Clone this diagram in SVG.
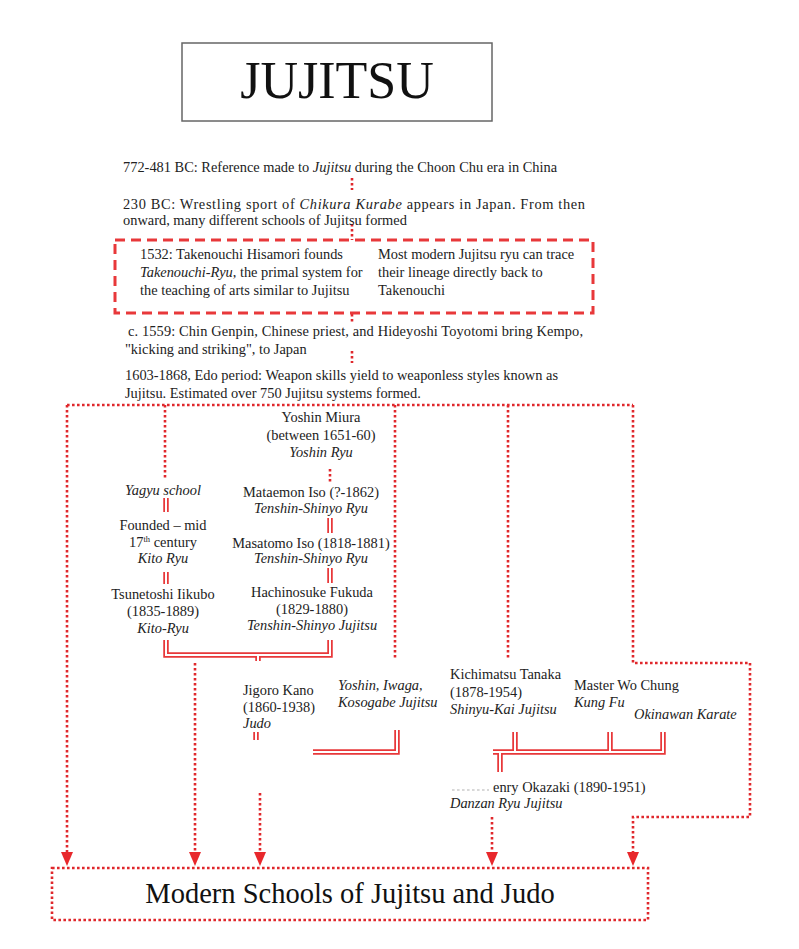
<svg xmlns="http://www.w3.org/2000/svg" width="799" height="949" viewBox="0 0 799 949" font-family="'Liberation Serif','Times New Roman',serif">
<style>
text{font-family:"Liberation Serif","Times New Roman",serif;font-size:14.4px;fill:#222}
.i{font-style:italic}
.c{text-anchor:middle}
.dot{fill:none;stroke:#e0282c;stroke-width:2.6;stroke-dasharray:2.6 2.4}
.dash{fill:none;stroke:#e8383a;stroke-width:3;stroke-dasharray:10 6}
.dbl{fill:none;stroke:#e8383a;stroke-width:5.5}
.dblw{fill:none;stroke:#fff;stroke-width:2}
.arr{fill:#e8282c}
</style>
<rect width="799" height="949" fill="#fff"/>
<g id="connectors">
<path class="dot" d="M352 178V190M352 224V240M352 314V323M352 351V363"/>
<path class="dot" d="M67 405H633M67 405V852M165 405V478M395 405V660M508 405V660M633 405V663H750V817H633V852"/>
<path class="dot" d="M330 469V483M195 663V852M260 793V852M492 817V852"/>
<path class="dot" d="M452 790H489" style="stroke:#ccc;stroke-width:1.5"/>
<g id="double-lines">
<path class="dbl" d="M166 498V512M166 572V584M330 518V533M330 568V583M166 640V655H330V640M258 655V661M256 732V740M397 730V752H313M515 732V752M610 732V752M663 732V752H493M500 752V772"/>
<path class="dblw" d="M166 498V512M166 572V584M330 518V533M330 568V583M166 640V655H330V640M258 655V661M256 732V740M397 730V752H313M515 732V752M610 732V752M663 732V752H493M500 752V772"/>
</g>
<polygon class="arr" points="61,852 73,852 67,866"/>
<polygon class="arr" points="189,852 201,852 195,866"/>
<polygon class="arr" points="254,852 266,852 260,866"/>
<polygon class="arr" points="486,852 498,852 492,866"/>
<polygon class="arr" points="627,852 639,852 633,866"/>
</g>
<g id="title">
<rect x="182" y="43" width="310" height="78" fill="none" stroke="#666" stroke-width="1.5"/>
<text x="337" y="98" class="c" style="font-size:52px;fill:#111">JUJITSU</text>
</g>
<g id="n772">
<text x="123" y="172">772-481 BC: Reference made to <tspan class="i">Jujitsu</tspan> during the Choon Chu era in China</text>
</g>
<g id="n230">
<text x="123" y="209" textLength="462" lengthAdjust="spacing">230 BC: Wrestling sport of <tspan class="i">Chikura Kurabe</tspan> appears in Japan.  From then</text>
<text x="123" y="225">onward, many different schools of Jujitsu formed</text>
</g>
<g id="n1532">
<rect class="dash" x="115" y="240" width="478" height="73"/>
<text x="140" y="259">1532: Takenouchi Hisamori founds</text>
<text x="140" y="277"><tspan class="i">Takenouchi-Ryu</tspan>, the primal system for</text>
<text x="140" y="295">the teaching of arts similar to Jujitsu</text>
<text x="378" y="259">Most modern Jujitsu ryu can trace</text>
<text x="378" y="277">their lineage directly back to</text>
<text x="378" y="295">Takenouchi</text>
</g>
<g id="n1559">
<text x="128" y="336" textLength="455" lengthAdjust="spacing">c. 1559: Chin Genpin, Chinese priest, and Hideyoshi Toyotomi bring Kempo,</text>
<text x="125" y="354">"kicking and striking", to Japan</text>
</g>
<g id="n1603">
<text x="125" y="380">1603-1868, Edo period: Weapon skills yield to weaponless styles known as</text>
<text x="125" y="398">Jujitsu. Estimated over 750 Jujitsu systems formed.</text>
</g>
<g id="yagyu"><text x="163" y="495" class="c i">Yagyu school</text></g>
<g id="kito">
<text x="163" y="530" class="c">Founded – mid</text>
<text x="163" y="547" class="c">17<tspan style="font-size:8.5px" dy="-5">th</tspan><tspan dy="5">  century</tspan></text>
<text x="163" y="563" class="c i">Kito Ryu</text>
</g>
<g id="iikubo">
<text x="163" y="599" class="c">Tsunetoshi Iikubo</text>
<text x="163" y="616" class="c">(1835-1889)</text>
<text x="163" y="633" class="c i">Kito-Ryu</text>
</g>
<g id="miura">
<text x="321" y="422" class="c">Yoshin Miura</text>
<text x="321" y="440" class="c">(between 1651-60)</text>
<text x="321" y="457" class="c i">Yoshin Ryu</text>
</g>
<g id="mataemon">
<text x="311" y="497" class="c">Mataemon Iso (?-1862)</text>
<text x="311" y="513" class="c i">Tenshin-Shinyo Ryu</text>
</g>
<g id="masatomo">
<text x="311" y="548" class="c">Masatomo Iso (1818-1881)</text>
<text x="311" y="563" class="c i">Tenshin-Shinyo Ryu</text>
</g>
<g id="fukuda">
<text x="312" y="597" class="c">Hachinosuke Fukuda</text>
<text x="312" y="614" class="c">(1829-1880)</text>
<text x="312" y="630" class="c i">Tenshin-Shinyo Jujitsu</text>
</g>
<g id="kano">
<text x="243" y="695">Jigoro Kano</text>
<text x="243" y="712">(1860-1938)</text>
<text x="243" y="728" class="i">Judo</text>
</g>
<g id="yoshin-iwaga">
<text x="338" y="690" class="i">Yoshin, Iwaga,</text>
<text x="338" y="707" class="i">Kosogabe Jujitsu</text>
</g>
<g id="tanaka">
<text x="450" y="679">Kichimatsu Tanaka</text>
<text x="450" y="697">(1878-1954)</text>
<text x="450" y="714" class="i">Shinyu-Kai Jujitsu</text>
</g>
<g id="wochung">
<text x="574" y="690">Master Wo Chung</text>
<text x="574" y="707" class="i">Kung Fu</text>
</g>
<g id="karate"><text x="634" y="719" class="i">Okinawan Karate</text></g>
<g id="okazaki">
<text x="493" y="792">enry Okazaki (1890-1951)</text>
<text x="450" y="808" class="i">Danzan Ryu Jujitsu</text>
</g>
<g id="modern">
<rect class="dot" x="52" y="868" width="596" height="52"/>
<text x="350" y="903" class="c" style="font-size:28.5px;fill:#111">Modern Schools of Jujitsu and Judo</text>
</g>
</svg>
